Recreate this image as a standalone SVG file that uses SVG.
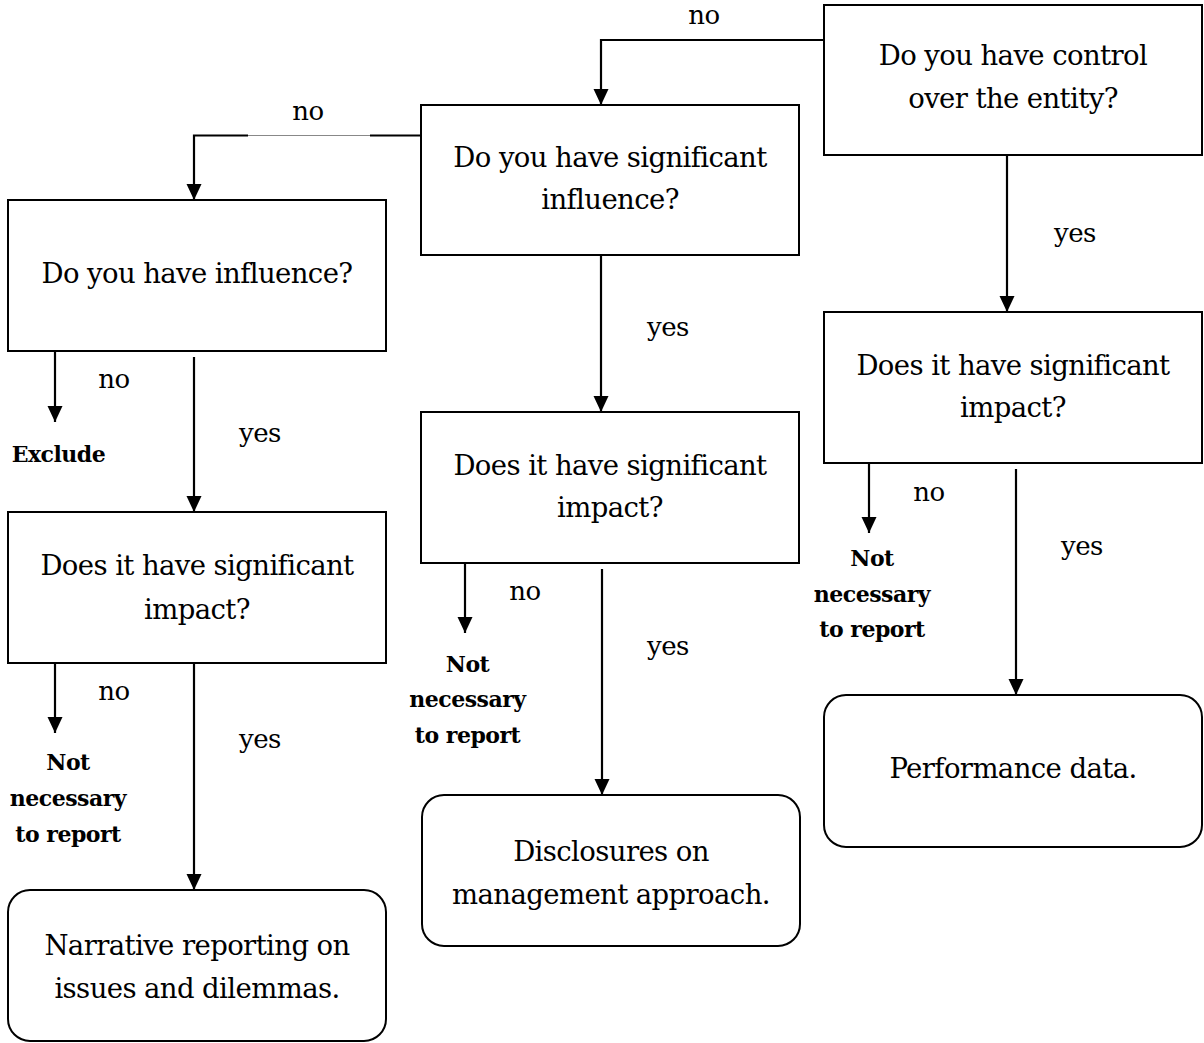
<svg xmlns="http://www.w3.org/2000/svg" width="1204" height="1043" viewBox="0 0 1204 1043">
<style>
.box{fill:#fff;stroke:#000;stroke-width:2}
.t{font-family:"DejaVu Serif","Liberation Serif",serif;font-size:27.5px;letter-spacing:-0.6px;fill:#000;text-anchor:middle}
.l{font-family:"DejaVu Serif","Liberation Serif",serif;font-size:26px;letter-spacing:-0.5px;fill:#000;text-anchor:middle}
.b{font-family:"DejaVu Serif","Liberation Serif",serif;font-size:22px;letter-spacing:-0.5px;font-weight:bold;fill:#000;text-anchor:middle}
.c{fill:none;stroke:#000;stroke-width:2.2}
</style>
<defs>
<marker id="ah" markerUnits="userSpaceOnUse" markerWidth="16" markerHeight="16" refX="16" refY="7.5" orient="auto">
<path d="M0,0 L16,7.5 L0,15 z" fill="#000"/>
</marker>
</defs>
<rect width="1204" height="1043" fill="#fff"/>
<g id="connectors">
<path class="c" d="M824,40 H601 V105" marker-end="url(#ah)"/>
<path class="c" d="M421,135.5 H370"/>
<path d="M370,135.5 H248" fill="none" stroke="#888" stroke-width="1"/>
<path class="c" d="M248,135.5 H194 V200" marker-end="url(#ah)"/>
<path class="c" d="M55,351 V422" marker-end="url(#ah)"/>
<path class="c" d="M194,357 V512" marker-end="url(#ah)"/>
<path class="c" d="M55,663 V733" marker-end="url(#ah)"/>
<path class="c" d="M194,663 V890" marker-end="url(#ah)"/>
<path class="c" d="M601,255 V412" marker-end="url(#ah)"/>
<path class="c" d="M465,563 V633" marker-end="url(#ah)"/>
<path class="c" d="M602,569 V795" marker-end="url(#ah)"/>
<path class="c" d="M1007,155 V312" marker-end="url(#ah)"/>
<path class="c" d="M869,463 V533" marker-end="url(#ah)"/>
<path class="c" d="M1016,469 V695" marker-end="url(#ah)"/>
<text class="l" x="704" y="24">no</text>
<text class="l" x="308" y="120">no</text>
<text class="l" x="114" y="388">no</text>
<text class="l" x="260" y="442">yes</text>
<text class="b" x="58.5" y="462">Exclude</text>
<text class="l" x="114" y="700">no</text>
<text class="l" x="260" y="748">yes</text>
<text class="b" x="68" y="770">Not</text>
<text class="b" x="68" y="806">necessary</text>
<text class="b" x="68" y="842">to report</text>
<text class="l" x="668" y="336">yes</text>
<text class="l" x="525" y="600">no</text>
<text class="l" x="668" y="655">yes</text>
<text class="b" x="467.5" y="672">Not</text>
<text class="b" x="467.5" y="707">necessary</text>
<text class="b" x="467.5" y="743">to report</text>
<text class="l" x="1075" y="242">yes</text>
<text class="l" x="929" y="501">no</text>
<text class="l" x="1082" y="555">yes</text>
<text class="b" x="872" y="566">Not</text>
<text class="b" x="872" y="602">necessary</text>
<text class="b" x="872" y="637">to report</text>
</g>
<g id="n-control">
<rect class="box" x="824" y="5" width="378" height="150"/>
<text class="t" x="1013" y="65">Do you have control</text>
<text class="t" x="1013" y="108">over the entity?</text>
</g>
<g id="n-sig-influence">
<rect class="box" x="421" y="105" width="378" height="150"/>
<text class="t" x="610" y="167">Do you have significant</text>
<text class="t" x="610" y="209">influence?</text>
</g>
<g id="n-influence">
<rect class="box" x="8" y="200" width="378" height="151"/>
<text class="t" x="197" y="283">Do you have influence?</text>
</g>
<g id="n-impact-left">
<rect class="box" x="8" y="512" width="378" height="151"/>
<text class="t" x="197" y="575">Does it have significant</text>
<text class="t" x="197" y="619">impact?</text>
</g>
<g id="n-impact-mid">
<rect class="box" x="421" y="412" width="378" height="151"/>
<text class="t" x="610" y="475">Does it have significant</text>
<text class="t" x="610" y="517">impact?</text>
</g>
<g id="n-impact-right">
<rect class="box" x="824" y="312" width="378" height="151"/>
<text class="t" x="1013" y="375">Does it have significant</text>
<text class="t" x="1013" y="417">impact?</text>
</g>
<g id="n-narrative">
<rect class="box" x="8" y="890" width="378" height="151" rx="22"/>
<text class="t" x="197" y="955">Narrative reporting on</text>
<text class="t" x="197" y="998">issues and dilemmas.</text>
</g>
<g id="n-disclosures">
<rect class="box" x="422" y="795" width="378" height="151" rx="22"/>
<text class="t" x="611" y="861">Disclosures on</text>
<text class="t" x="611" y="904">management approach.</text>
</g>
<g id="n-performance">
<rect class="box" x="824" y="695" width="378" height="152" rx="22"/>
<text class="t" x="1013" y="778">Performance data.</text>
</g>
</svg>
